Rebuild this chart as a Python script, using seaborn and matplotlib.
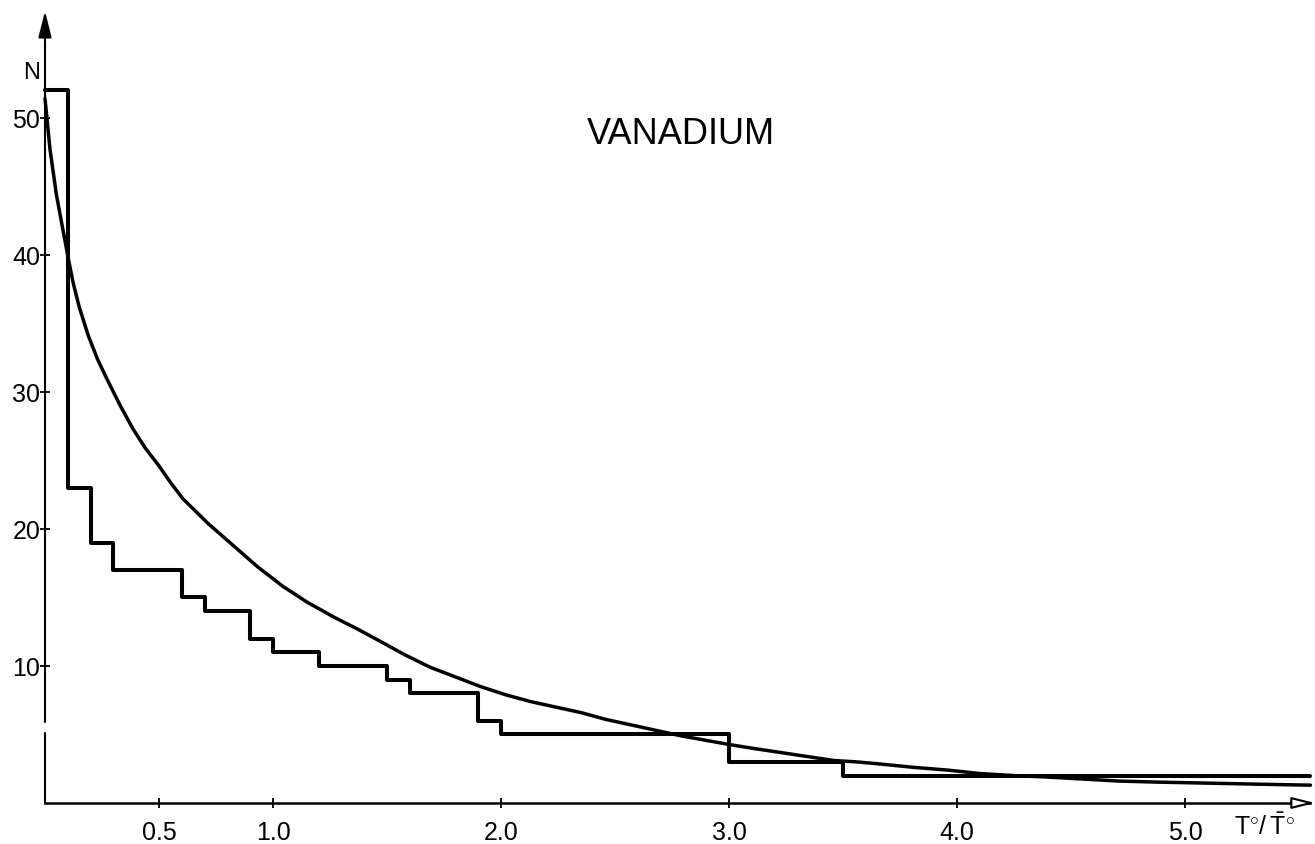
import matplotlib
matplotlib.use("Agg")
import matplotlib.pyplot as plt
import seaborn as sns
import pandas as pd

# Histogram of counts N per interval of T°/T̄° (step outline)
step_edges = [0.0, 0.1, 0.2, 0.3, 0.6, 0.7, 0.9, 1.0, 1.2, 1.5, 1.6, 1.9, 2.0, 3.0, 3.5, 5.55]
step_counts = [52, 23, 19, 17, 15, 14, 12, 11, 10, 9, 8, 6, 5, 3, 2, 2]

# Smooth theoretical distribution curve
curve_t = [0.0, 0.022, 0.05, 0.07, 0.088, 0.105, 0.123, 0.15, 0.19, 0.23, 0.27, 0.33,
           0.386, 0.44, 0.5, 0.55, 0.605, 0.66, 0.715, 0.77, 0.825, 0.88, 0.935, 0.99,
           1.044, 1.1, 1.155, 1.21, 1.263, 1.37, 1.47, 1.58, 1.69, 1.8, 1.91, 2.02,
           2.13, 2.24, 2.35, 2.46, 2.57, 2.68, 2.79, 2.89, 2.99, 3.1, 3.22, 3.34,
           3.46, 3.56, 3.66, 3.81, 3.96, 4.1, 4.25, 4.39, 4.55, 4.71, 4.89, 5.07,
           5.3, 5.55]
curve_n = [51.4, 47.7, 44.4, 42.6, 41.0, 39.5, 38.0, 36.2, 34.1, 32.4, 31.0, 29.0,
           27.3, 25.9, 24.6, 23.4, 22.2, 21.3, 20.4, 19.6, 18.8, 18.0, 17.2, 16.5,
           15.8, 15.2, 14.6, 14.1, 13.6, 12.7, 11.8, 10.8, 9.9, 9.2, 8.5, 7.9,
           7.4, 7.0, 6.6, 6.1, 5.7, 5.3, 4.9, 4.6, 4.3, 4.0, 3.7, 3.4,
           3.1, 3.0, 2.85, 2.6, 2.4, 2.15, 2.0, 1.9, 1.75, 1.6, 1.52, 1.46,
           1.38, 1.3]

x_ticks = [0.5, 1.0, 2.0, 3.0, 4.0, 5.0]
x_ticklabels = ["0.5", "1.0", "2.0", "3.0", "4.0", "5.0"]
y_ticks = [10, 20, 30, 40, 50]
y_ticklabels = ["10", "20", "30", "40", "50"]

sns.set_style("white")
plt.rcParams["font.family"] = ["Liberation Sans", "DejaVu Sans"]
plt.rcParams["mathtext.fontset"] = "custom"
plt.rcParams["mathtext.rm"] = "Liberation Sans"

W, H = 1315, 845
fig = plt.figure(figsize=(W / 100, H / 100), dpi=100)
ax = fig.add_axes([45 / W, (H - 804) / H, (1310 - 45) / W, (804 - 12) / H])

steps = pd.DataFrame({"t": step_edges, "n": step_counts})
curve = pd.DataFrame({"t": curve_t, "n": curve_n})

sns.lineplot(data=steps, x="t", y="n", drawstyle="steps-post", color="black",
             linewidth=2.9, ax=ax, clip_on=False, sort=False)
sns.lineplot(data=curve, x="t", y="n", color="black", linewidth=2.5, ax=ax,
             clip_on=False, sort=False, solid_joinstyle="round")

ax.set_xlim(0, 5.548)
ax.set_ylim(0, 57.8)

# Axes: bottom spine plus a broken vertical axis with arrowheads
for s in ["top", "right", "left"]:
    ax.spines[s].set_visible(False)
ax.spines["bottom"].set_linewidth(1.8)
ax.spines["bottom"].set_color("black")
ax.axvline(0, ymin=0, ymax=0.088, color="black", lw=1.5, clip_on=False)
ax.axvline(0, ymin=0.102, ymax=0.96, color="black", lw=1.5, clip_on=False)
ax.annotate("", xy=(0, 1.0), xytext=(0, 0.95), xycoords="axes fraction",
            arrowprops=dict(arrowstyle="-|>,head_length=1.6,head_width=0.4",
                            lw=1.5, color="black", shrinkA=0, shrinkB=0))
ax.annotate("", xy=(1.004, 0), xytext=(0.985, 0), xycoords="axes fraction",
            arrowprops=dict(arrowstyle="-|>,head_length=1.4,head_width=0.35",
                            lw=1.5, color="black", fc="white", shrinkA=0, shrinkB=0))

ax.set_xticks(x_ticks)
ax.set_xticklabels(x_ticklabels)
ax.set_yticks(y_ticks)
ax.set_yticklabels(y_ticklabels)
ax.tick_params(axis="both", direction="inout", length=7, width=1.3, colors="black",
               labelsize=18)
ax.tick_params(axis="x", pad=9)
ax.tick_params(axis="y", pad=0, left=True)
ax.tick_params(axis="x", bottom=True)
ax.set_xlabel("")
ax.set_ylabel("")

ax.text(-0.011, 0.923, "N", transform=ax.transAxes, fontsize=17, ha="center",
        va="center", color="black")
ax.text(0.964, -0.029, r"$\mathrm{T}^{\circ}/\,\bar{\mathrm{T}}^{\circ}$",
        transform=ax.transAxes, fontsize=18, ha="center", va="center", color="black")
ax.text(0.503, 0.845, "VANADIUM", transform=ax.transAxes, fontsize=26,
        ha="center", va="center", color="black")

fig.savefig("out.png", dpi=100, facecolor="white")
